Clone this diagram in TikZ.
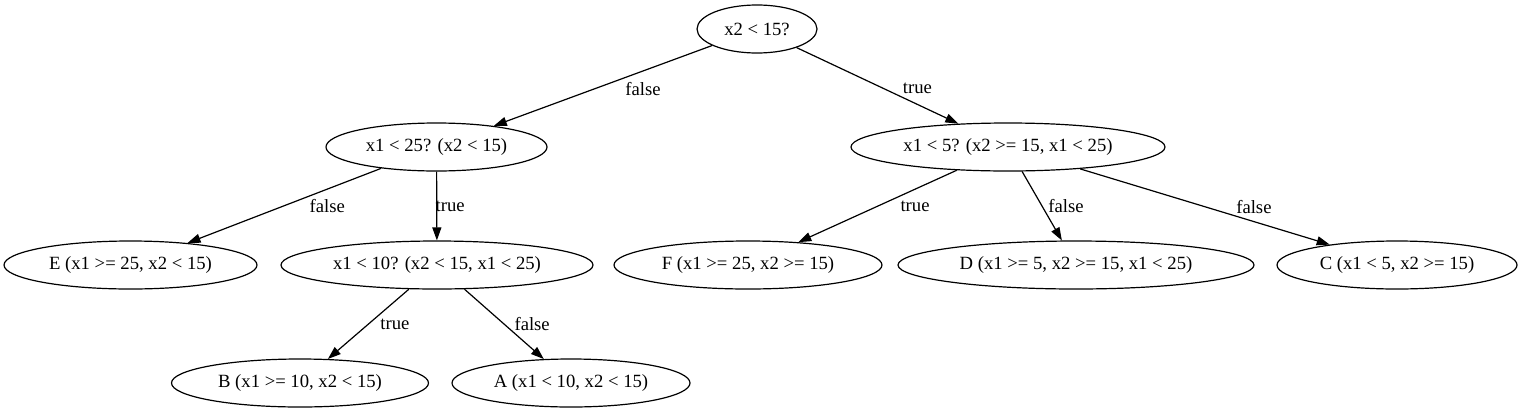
\documentclass[tikz,border=0pt]{standalone}
\usepackage{fontspec}
\setmainfont{Liberation Serif}
\usetikzlibrary{arrows.meta,shapes.geometric}

\begin{document}
\begin{tikzpicture}[
    x=1pt, y=-1pt,
    font=\fontsize{18.67}{22}\selectfont,
    split/.style={ellipse, draw, line width=1.2pt, inner sep=0pt, minimum height=48pt},
    edge/.style={-{Triangle[length=13pt, width=9pt]}, line width=1.2pt},
    lbl/.style={inner sep=0pt}
]
\useasboundingbox (0,0) rectangle (1523,413);
% tests
\node[split, minimum width=120pt] (root) at (757,29) {x2 < 15?};
\node[split, minimum width=221pt] (lt) at (436.5,147) {x1 < 25? (x2 < 15)};
\node[split, minimum width=314pt] (rt) at (1008,147) {x1 < 5? (x2 >= 15, x1 < 25)};
\node[split, minimum width=312pt] (mid) at (437,265) {x1 < 10? (x2 < 15, x1 < 25)};
% leaves
\node[split, minimum width=253pt] (leafE) at (130.5,265) {E (x1 >= 25, x2 < 15)};
\node[split, minimum width=268pt] (leafF) at (748,265) {F (x1 >= 25, x2 >= 15)};
\node[split, minimum width=356pt] (leafD) at (1076,265) {D (x1 >= 5, x2 >= 15, x1 < 25)};
\node[split, minimum width=240pt] (leafC) at (1397,265) {C (x1 < 5, x2 >= 15)};
\node[split, minimum width=257pt] (leafB) at (300,383) {B (x1 >= 10, x2 < 15)};
\node[split, minimum width=238pt] (leafA) at (571,383) {A (x1 < 10, x2 < 15)};
% branches
\draw[edge] (root) -- node[lbl, xshift=40pt, yshift=-3pt] {false} (lt);
\draw[edge] (root) -- node[lbl, xshift=40pt, yshift=-3pt] {true} (rt);
\draw[edge] (lt) -- node[lbl, xshift=43pt] {false} (leafE);
\draw[edge] (lt) -- node[lbl, xshift=13.5pt] {true} (mid);
\draw[edge] (mid) -- node[lbl, xshift=26.5pt] {true} (leafB);
\draw[edge] (mid) -- node[lbl, xshift=28pt] {false} (leafA);
\draw[edge] (rt) -- node[lbl, xshift=37.5pt] {true} (leafF);
\draw[edge] (rt) -- node[lbl, xshift=24pt] {false} (leafD);
\draw[edge] (rt) -- node[lbl, xshift=49pt] {false} (leafC);
\end{tikzpicture}
\end{document}
